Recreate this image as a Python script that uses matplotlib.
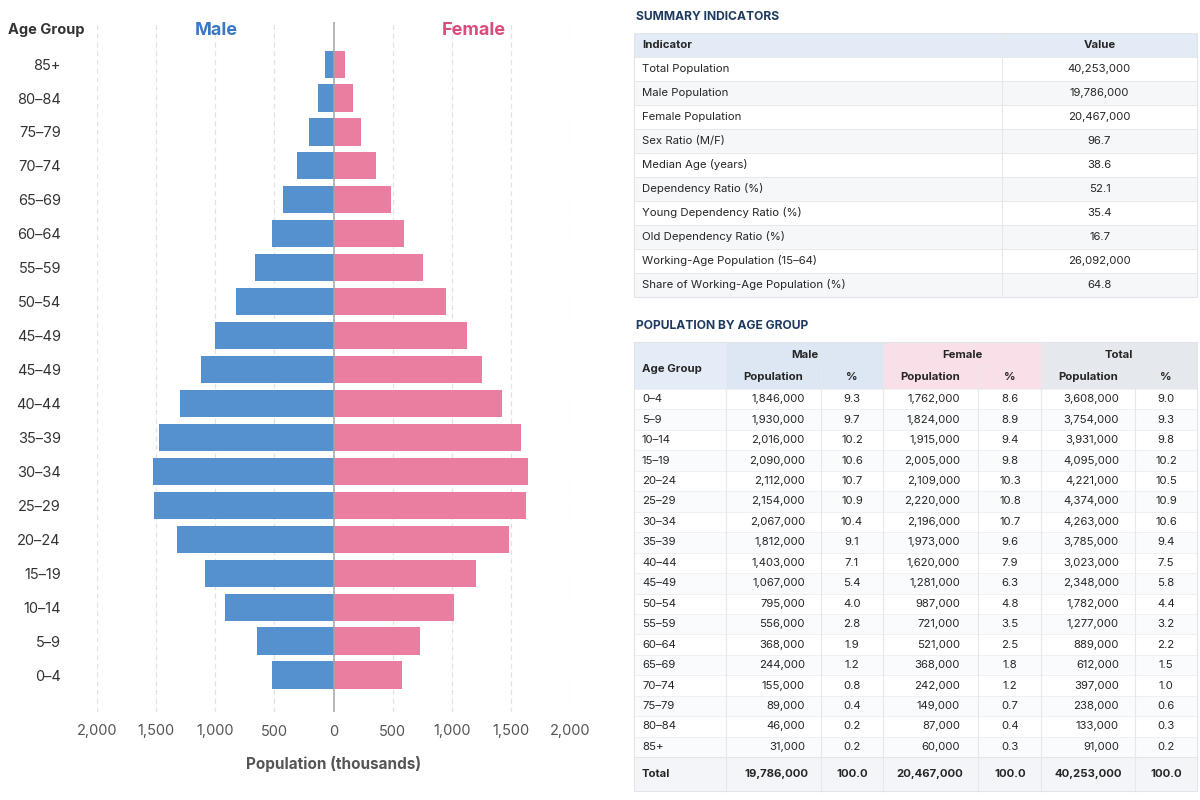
import matplotlib
matplotlib.use("Agg")
import matplotlib.pyplot as plt
from matplotlib.patches import Rectangle
from matplotlib.transforms import blended_transform_factory

plt.rcParams['font.family'] = ['Inter', 'DejaVu Sans']

# ---------------- data ----------------
pyr_labels = ['0–4', '5–9', '10–14', '15–19', '20–24', '25–29', '30–34', '35–39',
              '40–44', '45–49', '45–49', '50–54', '55–59', '60–64', '65–69',
              '70–74', '75–79', '80–84', '85+']
pyr_male = [516, 648, 914, 1083, 1321, 1518, 1530, 1475, 1299, 1123, 1000,
            822, 661, 523, 424, 306, 205, 135, 76]
pyr_female = [579, 729, 1016, 1209, 1481, 1628, 1649, 1588, 1428, 1253, 1131,
              950, 757, 596, 490, 360, 234, 161, 94]
x_ticks = [-2000, -1500, -1000, -500, 0, 500, 1000, 1500, 2000]

summary_names = ['Total Population', 'Male Population', 'Female Population',
                 'Sex Ratio (M/F)', 'Median Age (years)', 'Dependency Ratio (%)',
                 'Young Dependency Ratio (%)', 'Old Dependency Ratio (%)',
                 'Working-Age Population (15–64)', 'Share of Working-Age Population (%)']
summary_values = ['40,253,000', '19,786,000', '20,467,000', '96.7', '38.6', '52.1',
                  '35.4', '16.7', '26,092,000', '64.8']

age_groups = ['0–4', '5–9', '10–14', '15–19', '20–24', '25–29', '30–34', '35–39',
              '40–44', '45–49', '50–54', '55–59', '60–64', '65–69', '70–74',
              '75–79', '80–84', '85+']
male_pop = [1846000, 1930000, 2016000, 2090000, 2112000, 2154000, 2067000, 1812000,
            1403000, 1067000, 795000, 556000, 368000, 244000, 155000, 89000, 46000, 31000]
male_pct = [9.3, 9.7, 10.2, 10.6, 10.7, 10.9, 10.4, 9.1, 7.1, 5.4, 4.0, 2.8, 1.9,
            1.2, 0.8, 0.4, 0.2, 0.2]
female_pop = [1762000, 1824000, 1915000, 2005000, 2109000, 2220000, 2196000, 1973000,
              1620000, 1281000, 987000, 721000, 521000, 368000, 242000, 149000, 87000, 60000]
female_pct = [8.6, 8.9, 9.4, 9.8, 10.3, 10.8, 10.7, 9.6, 7.9, 6.3, 4.8, 3.5, 2.5,
              1.8, 1.2, 0.7, 0.4, 0.3]
total_pop = [3608000, 3754000, 3931000, 4095000, 4221000, 4374000, 4263000, 3785000,
             3023000, 2348000, 1782000, 1277000, 889000, 612000, 397000, 238000, 133000, 91000]
total_pct = [9.0, 9.3, 9.8, 10.2, 10.5, 10.9, 10.6, 9.4, 7.5, 5.8, 4.4, 3.2, 2.2,
             1.5, 1.0, 0.6, 0.3, 0.2]
totals_row = [19786000, 100.0, 20467000, 100.0, 40253000, 100.0]

# ---------------- style ----------------
MALE_C = '#5590cf'
FEMALE_C = '#e97ea0'
MALE_T = '#3b78c3'
FEMALE_T = '#dc4b7d'
TXT = '#262626'
NAVY = '#1e3a5f'

W, H = 1200, 800
fig = plt.figure(figsize=(12, 8), dpi=100)
fig.patch.set_facecolor('white')

# ---------------- pyramid ----------------
ax = fig.add_axes([97 / W, 1 - 712 / H, (570 - 97) / W, (712 - 22) / H])
ypos = list(range(len(pyr_labels)))
ax.barh(ypos, [-v for v in pyr_male], height=0.8, color=MALE_C, zorder=3)
ax.barh(ypos, pyr_female, height=0.8, color=FEMALE_C, zorder=3)
ax.set_xlim(-2000, 2000)
ax.set_ylim(-1.09, len(pyr_labels) + 0.24)
for t in x_ticks:
    if t != 0:
        ax.axvline(t, color='#e2e2e2', lw=0.9, ls=(0, (4, 3)), zorder=1)
ax.axvline(0, color='#a0a4a8', lw=1.1, zorder=4)
for s in ax.spines.values():
    s.set_visible(False)
ax.set_xticks(x_ticks)
ax.set_xticklabels([f'{abs(t):,}' for t in x_ticks], fontsize=10.5, color='#555555')
ax.set_yticks(ypos)
ax.set_yticklabels(pyr_labels, fontsize=10.5, color='#333333')
ax.tick_params(axis='x', length=0, pad=9)
ax.tick_params(axis='y', length=0, pad=26)

hdr_y = len(pyr_labels)
ax.text(-990, hdr_y, 'Male', color=MALE_T, fontsize=13, fontweight='bold',
        ha='center', va='center')
ax.text(1190, hdr_y, 'Female', color=FEMALE_T, fontsize=13, fontweight='bold',
        ha='center', va='center')
bt = blended_transform_factory(fig.transFigure, ax.transData)
ax.text(46 / W, hdr_y, 'Age Group', transform=bt, color='#333333', fontsize=10.5,
        fontweight='bold', ha='center', va='center')
fig.text(334 / W, 1 - 764 / H, 'Population (thousands)', fontsize=11,
         fontweight='bold', color='#555555', ha='center', va='center')

# ---------------- tables (pixel-coordinate overlay) ----------------
tax = fig.add_axes([0, 0, 1, 1], zorder=5)
tax.set_xlim(0, W)
tax.set_ylim(H, 0)
tax.axis('off')
tax.patch.set_alpha(0)

FS = 8.2
LINE = '#e6e8ec'

def cell(x0, y0, x1, y1, fc):
    tax.add_patch(Rectangle((x0, y0), x1 - x0, y1 - y0, facecolor=fc,
                            edgecolor='none', zorder=1))

# Summary indicators
tax.text(636, 17, 'SUMMARY INDICATORS', fontsize=8.7, fontweight='bold', color=NAVY,
         ha='left', va='center')
s_cols = [634, 1002, 1197]
s_top, s_hdr_h, s_row_h = 33, 24, 24
cell(s_cols[0], s_top, s_cols[-1], s_top + s_hdr_h, '#e3ecf6')
tax.text(642, s_top + s_hdr_h / 2, 'Indicator', fontsize=FS, fontweight='bold',
         color=TXT, ha='left', va='center')
tax.text((s_cols[1] + s_cols[2]) / 2, s_top + s_hdr_h / 2, 'Value', fontsize=FS,
         fontweight='bold', color=TXT, ha='center', va='center')
for i, (name, val) in enumerate(zip(summary_names, summary_values)):
    y0 = s_top + s_hdr_h + i * s_row_h
    cell(s_cols[0], y0, s_cols[-1], y0 + s_row_h, '#ffffff' if i % 2 == 0 else '#f6f7f9')
    tax.text(642, y0 + s_row_h / 2, name, fontsize=FS, color=TXT, ha='left', va='center')
    tax.text((s_cols[1] + s_cols[2]) / 2, y0 + s_row_h / 2, val, fontsize=FS,
             color=TXT, ha='center', va='center')
    tax.plot([s_cols[0], s_cols[-1]], [y0, y0], color=LINE, lw=0.7, zorder=2)
s_bot = s_top + s_hdr_h + len(summary_names) * s_row_h
tax.plot([s_cols[1], s_cols[1]], [s_top, s_bot], color=LINE, lw=0.8, zorder=2)
tax.add_patch(Rectangle((s_cols[0], s_top), s_cols[-1] - s_cols[0], s_bot - s_top,
                        facecolor='none', edgecolor='#e1e4e8', lw=0.8, zorder=3))

# Population by age group
tax.text(636, 326, 'POPULATION BY AGE GROUP', fontsize=8.7, fontweight='bold',
         color=NAVY, ha='left', va='center')
a_cols = [634, 726, 821, 883, 978, 1041, 1135, 1197]
a_top = 342
h1, h2 = 24, 23
r_h = 20.45
t_h = 34
hb = a_top + h1 + h2
cell(a_cols[0], a_top, a_cols[1], hb, '#e4edf7')
cell(a_cols[1], a_top, a_cols[3], hb, '#dce7f3')
cell(a_cols[3], a_top, a_cols[5], hb, '#f9dfe8')
cell(a_cols[5], a_top, a_cols[7], hb, '#e5e8ec')
tax.text(642, a_top + (h1 + h2) / 2 + 4, 'Age Group', fontsize=FS, fontweight='bold',
         color=TXT, ha='left', va='center')
for k, grp in enumerate(['Male', 'Female', 'Total']):
    c0, c1 = a_cols[1 + 2 * k], a_cols[3 + 2 * k]
    tax.text((c0 + c1) / 2, a_top + h1 / 2 + 1, grp, fontsize=FS, fontweight='bold',
             color=TXT, ha='center', va='center')
    tax.text((a_cols[1 + 2 * k] + a_cols[2 + 2 * k]) / 2, a_top + h1 + h2 / 2,
             'Population', fontsize=FS, fontweight='bold', color=TXT,
             ha='center', va='center')
    tax.text((a_cols[2 + 2 * k] + a_cols[3 + 2 * k]) / 2, a_top + h1 + h2 / 2,
             '%', fontsize=FS, fontweight='bold', color=TXT, ha='center', va='center')

pop_right = [805, 960, 1119]
pct_center = [852, 1010, 1166]
for i, ag in enumerate(age_groups):
    y0 = hb + i * r_h
    yc = y0 + r_h / 2
    cell(a_cols[0], y0, a_cols[-1], y0 + r_h, '#ffffff' if i % 2 == 0 else '#fafbfc')
    tax.plot([a_cols[0], a_cols[-1]], [y0, y0], color='#eef0f3', lw=0.7, zorder=2)
    tax.text(642, yc, ag, fontsize=FS, color=TXT, ha='left', va='center')
    for k, (pv, pc) in enumerate([(male_pop[i], male_pct[i]),
                                  (female_pop[i], female_pct[i]),
                                  (total_pop[i], total_pct[i])]):
        tax.text(pop_right[k], yc, f'{pv:,}', fontsize=FS, color=TXT,
                 ha='right', va='center')
        tax.text(pct_center[k], yc, f'{pc:.1f}', fontsize=FS, color=TXT,
                 ha='center', va='center')

ty0 = hb + len(age_groups) * r_h
ty1 = ty0 + t_h
cell(a_cols[0], ty0, a_cols[-1], ty1, '#f3f5f8')
tax.plot([a_cols[0], a_cols[-1]], [ty0, ty0], color='#e3e6ea', lw=0.8, zorder=2)
tax.text(642, (ty0 + ty1) / 2, 'Total', fontsize=FS, fontweight='bold', color=TXT,
         ha='left', va='center')
for k in range(3):
    tax.text(pop_right[k] + 3, (ty0 + ty1) / 2, f'{totals_row[2 * k]:,}', fontsize=FS,
             fontweight='bold', color=TXT, ha='right', va='center')
    tax.text(pct_center[k], (ty0 + ty1) / 2, f'{totals_row[2 * k + 1]:.1f}',
             fontsize=FS, fontweight='bold', color=TXT, ha='center', va='center')

for j, xc in enumerate(a_cols[1:-1], start=1):
    y_start = a_top + h1 if j in (2, 4, 6) else a_top
    tax.plot([xc, xc], [y_start, ty1], color=LINE, lw=0.8, zorder=2)
tax.add_patch(Rectangle((a_cols[0], a_top), a_cols[-1] - a_cols[0], ty1 - a_top,
                        facecolor='none', edgecolor='#e1e4e8', lw=0.8, zorder=3))

fig.savefig('out.png', dpi=100, facecolor='white')
